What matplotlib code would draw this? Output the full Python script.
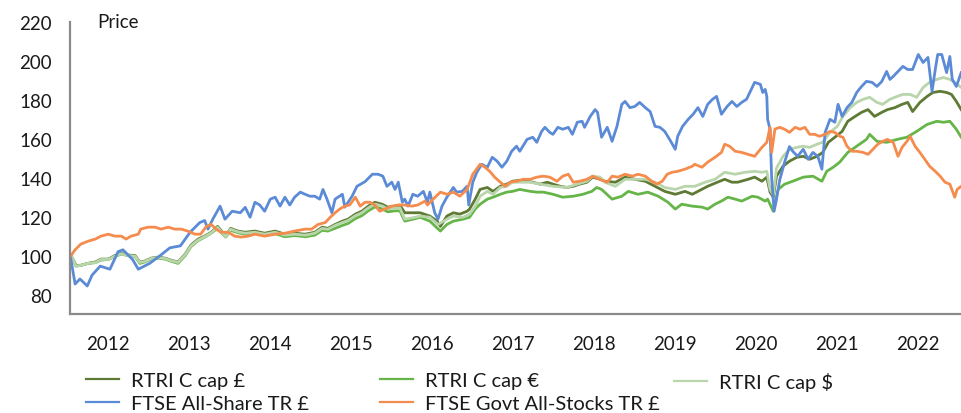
import matplotlib
matplotlib.use("Agg")
import matplotlib.pyplot as plt
from matplotlib.lines import Line2D

plt.rcParams['font.family'] = ['Lato', 'DejaVu Sans']

# --- data (decimal years, index value) ---
years = [2012, 2013, 2014, 2015, 2016, 2017, 2018, 2019, 2020, 2021, 2022]
y_ticks = [80, 100, 120, 140, 160, 180, 200, 220]

gbp_x = [2011.54, 2011.60, 2011.66, 2011.75, 2011.84, 2011.91, 2012.00, 2012.08, 2012.16, 2012.24,
         2012.33, 2012.39, 2012.45, 2012.53, 2012.61, 2012.70, 2012.77, 2012.86, 2012.95, 2013.02,
         2013.11, 2013.19, 2013.27, 2013.35, 2013.39, 2013.45, 2013.51, 2013.60, 2013.69, 2013.81,
         2013.93, 2014.06, 2014.18, 2014.30, 2014.43, 2014.55, 2014.64, 2014.71, 2014.80, 2014.89,
         2014.96, 2015.05, 2015.13, 2015.21, 2015.29, 2015.38, 2015.45, 2015.54, 2015.60, 2015.66,
         2015.79, 2015.85, 2015.97, 2016.06, 2016.10, 2016.18, 2016.26, 2016.34, 2016.43, 2016.46,
         2016.53, 2016.59, 2016.68, 2016.75, 2016.84, 2016.92, 2016.99, 2017.08, 2017.17, 2017.24,
         2017.33, 2017.42, 2017.49, 2017.58, 2017.66, 2017.74, 2017.82, 2017.91, 2017.98, 2018.07,
         2018.13, 2018.26, 2018.38, 2018.50, 2018.63, 2018.75, 2018.87, 2019.00, 2019.12, 2019.21,
         2019.28, 2019.40, 2019.52, 2019.61, 2019.70, 2019.77, 2019.90, 2019.98, 2020.07, 2020.13,
         2020.17, 2020.21, 2020.25, 2020.33, 2020.41, 2020.50, 2020.58, 2020.66, 2020.75, 2020.82,
         2020.89, 2020.97, 2021.06, 2021.13, 2021.22, 2021.30, 2021.38, 2021.46, 2021.55, 2021.62,
         2021.71, 2021.80, 2021.87, 2021.93, 2022.02, 2022.11, 2022.18, 2022.27, 2022.35, 2022.41,
         2022.47, 2022.53]
gbp_y = [100, 95, 95, 96, 96.7, 98.2, 98.2, 100, 101.3, 100.3,
         100, 96.7, 97.2, 98.7, 99.2, 98.7, 97.7, 96.7, 100.8, 105.4,
         108.5, 110, 112, 115, 113, 110, 114, 112.6, 112, 112.6,
         111.5, 112.6, 111, 111.5, 111, 112, 114.6, 114, 116, 117.7,
         118.7, 121.3, 122.8, 125.4, 127.4, 126.4, 124.9, 125.4, 125.9, 122,
         122, 122, 120.3, 117.7, 115, 120.3, 122, 121.3, 122.8, 123.9,
         129, 134, 135, 133, 135.6, 136.7, 138.2, 138.7, 138.2, 137.7,
         136.7, 137.7, 136.7, 135.6, 135, 135.6, 136.7, 137.7, 140.3, 139.2,
         138.2, 137.7, 140.3, 139.2, 138.2, 135.6, 133, 131.5, 133, 131.5,
         133, 135.6, 137.7, 139.2, 137.7, 137.7, 139.2, 140.3, 138.2, 140.3,
         132.6, 130, 140.8, 145.9, 148.5, 150.5, 151, 149.5, 151, 153,
         158.2, 160.8, 163.8, 169, 171.5, 173.6, 175, 171.5, 173.6, 175,
         176, 177.7, 178.7, 174, 178.7, 181.8, 183.8, 184.4, 183.8, 182.8,
         179.2, 175]

eur_x = [2011.54, 2011.60, 2011.66, 2011.75, 2011.84, 2011.91, 2012.00, 2012.08, 2012.16, 2012.24,
         2012.33, 2012.39, 2012.45, 2012.53, 2012.61, 2012.70, 2012.77, 2012.86, 2012.95, 2013.02,
         2013.11, 2013.19, 2013.27, 2013.35, 2013.39, 2013.45, 2013.51, 2013.60, 2013.69, 2013.81,
         2013.93, 2014.06, 2014.18, 2014.30, 2014.43, 2014.55, 2014.64, 2014.71, 2014.80, 2014.89,
         2014.96, 2015.05, 2015.13, 2015.21, 2015.29, 2015.38, 2015.45, 2015.54, 2015.60, 2015.66,
         2015.79, 2015.85, 2015.97, 2016.10, 2016.18, 2016.26, 2016.38, 2016.46, 2016.53, 2016.59,
         2016.68, 2016.75, 2016.84, 2016.92, 2016.99, 2017.08, 2017.21, 2017.29, 2017.37, 2017.49,
         2017.61, 2017.74, 2017.86, 2017.97, 2018.03, 2018.09, 2018.22, 2018.34, 2018.42, 2018.54,
         2018.66, 2018.79, 2018.91, 2019.00, 2019.08, 2019.21, 2019.33, 2019.40, 2019.49, 2019.57,
         2019.65, 2019.74, 2019.82, 2019.95, 2020.02, 2020.11, 2020.14, 2020.21, 2020.27, 2020.35,
         2020.45, 2020.58, 2020.70, 2020.81, 2020.87, 2020.95, 2021.03, 2021.13, 2021.24, 2021.36,
         2021.40, 2021.49, 2021.61, 2021.74, 2021.86, 2021.98, 2022.11, 2022.23, 2022.31, 2022.39,
         2022.47, 2022.53]
eur_y = [100, 94.6, 95, 96, 96.4, 97.7, 98, 99.5, 100.8, 100,
         99.5, 96, 96.7, 98.2, 98.7, 98.2, 97.2, 96, 100, 104.6,
         107.7, 109.5, 111.5, 114, 112, 109.5, 113, 111.7, 111, 111.5,
         110.3, 111.3, 109.7, 110.3, 109.7, 110.5, 113, 112.6, 114, 115.5,
         116.5, 119, 120.5, 123, 125, 124, 122.5, 123, 123, 117.7,
         119, 119.7, 117.7, 112.6, 116, 117.7, 118.7, 119.7, 123.9, 126.4,
         129, 130, 131.5, 132.6, 133, 134, 133, 132.6, 132.6, 131.5,
         130, 130.5, 131.5, 133, 135, 134, 129, 130.5, 133, 131.5,
         132.6, 130.5, 127.4, 123.9, 126.4, 125.4, 124.9, 123.9, 126.4, 128,
         130, 129, 128, 130.5, 130, 128, 129, 122.8, 134, 136.7,
         138.2, 140.3, 140.8, 138.2, 143.3, 145.4, 148, 153, 156.2, 159.7,
         162.3, 158.7, 158.2, 159.7, 160.8, 163.8, 167.4, 169, 168.5, 169,
         164.9, 160.8]

usd_x = [2011.54, 2011.60, 2011.66, 2011.75, 2011.84, 2011.91, 2012.00, 2012.08, 2012.16, 2012.24,
         2012.33, 2012.39, 2012.45, 2012.53, 2012.61, 2012.70, 2012.77, 2012.86, 2012.95, 2013.02,
         2013.11, 2013.19, 2013.27, 2013.35, 2013.39, 2013.45, 2013.51, 2013.60, 2013.69, 2013.81,
         2013.93, 2014.06, 2014.18, 2014.30, 2014.43, 2014.55, 2014.64, 2014.71, 2014.80, 2014.89,
         2014.96, 2015.05, 2015.13, 2015.21, 2015.29, 2015.38, 2015.45, 2015.54, 2015.60, 2015.66,
         2015.79, 2015.85, 2015.97, 2016.07, 2016.18, 2016.26, 2016.38, 2016.46, 2016.53, 2016.59,
         2016.68, 2016.75, 2016.84, 2016.92, 2016.99, 2017.08, 2017.21, 2017.33, 2017.49, 2017.66,
         2017.79, 2017.91, 2017.98, 2018.07, 2018.13, 2018.26, 2018.38, 2018.50, 2018.63, 2018.75,
         2018.87, 2019.00, 2019.12, 2019.24, 2019.37, 2019.49, 2019.61, 2019.74, 2019.86, 2019.98,
         2020.07, 2020.13, 2020.17, 2020.21, 2020.25, 2020.33, 2020.41, 2020.50, 2020.58, 2020.66,
         2020.75, 2020.82, 2020.91, 2021.00, 2021.07, 2021.16, 2021.24, 2021.32, 2021.40, 2021.49,
         2021.56, 2021.65, 2021.74, 2021.81, 2021.90, 2021.98, 2022.06, 2022.14, 2022.23, 2022.31,
         2022.39, 2022.45, 2022.53]
usd_y = [100, 94.6, 95, 96, 96.4, 98, 98, 99.7, 101, 100,
         99.7, 96.5, 97, 98.5, 99, 98.5, 97.5, 96.5, 100.5, 105,
         108, 109.7, 111.7, 114.5, 112.5, 109.7, 113.6, 112.2, 111.5, 112,
         111, 112, 110.5, 111, 110.5, 111.5, 114, 113.5, 115.5, 117,
         118, 120.5, 122, 124.5, 126.5, 125.5, 124, 124.5, 124.5, 118.7,
         119.7, 120.3, 119.7, 116, 118.7, 120.3, 119.7, 121.3, 125.4, 130.5,
         133, 131.5, 135, 135.6, 137.7, 137.7, 137.7, 136.7, 135.6, 135,
         136.7, 138.2, 140.8, 140.3, 137.7, 135.6, 139.2, 139.2, 139.2, 137.7,
         135, 134, 135.6, 135.6, 137.7, 139.2, 142.8, 141.8, 142.8, 143.3,
         142.8, 143.3, 134, 131, 145, 151, 154.6, 155.6, 156.2, 155.6,
         157.2, 158.2, 163.3, 166.4, 171.5, 176, 178.7, 180.3, 181.3, 178.7,
         177.7, 180.3, 181.8, 182.8, 182.8, 181.3, 186.4, 189, 190.5, 191.5,
         190.5, 189, 186.4]

ftse_x = [2011.53, 2011.59, 2011.65, 2011.70, 2011.74, 2011.80, 2011.90, 2012.02, 2012.12, 2012.18,
          2012.30, 2012.37, 2012.51, 2012.64, 2012.76, 2012.89, 2013.01, 2013.13, 2013.19, 2013.23,
          2013.29, 2013.38, 2013.44, 2013.53, 2013.63, 2013.69, 2013.75, 2013.81, 2013.87, 2013.93,
          2014.00, 2014.06, 2014.12, 2014.18, 2014.24, 2014.30, 2014.37, 2014.43, 2014.49, 2014.55,
          2014.61, 2014.65, 2014.70, 2014.76, 2014.80, 2014.89, 2014.92, 2015.01, 2015.07, 2015.17,
          2015.26, 2015.33, 2015.39, 2015.44, 2015.50, 2015.54, 2015.58, 2015.63, 2015.66, 2015.70,
          2015.76, 2015.82, 2015.89, 2015.94, 2015.97, 2016.03, 2016.07, 2016.12, 2016.18, 2016.26,
          2016.30, 2016.37, 2016.43, 2016.45, 2016.50, 2016.55, 2016.61, 2016.68, 2016.74, 2016.80,
          2016.86, 2016.92, 2016.98, 2017.04, 2017.08, 2017.17, 2017.24, 2017.29, 2017.35, 2017.39,
          2017.45, 2017.49, 2017.55, 2017.61, 2017.68, 2017.73, 2017.79, 2017.85, 2017.88, 2017.95,
          2018.01, 2018.04, 2018.09, 2018.16, 2018.22, 2018.28, 2018.34, 2018.38, 2018.44, 2018.50,
          2018.56, 2018.63, 2018.69, 2018.75, 2018.81, 2018.87, 2018.93, 2019.00, 2019.03, 2019.09,
          2019.16, 2019.22, 2019.28, 2019.34, 2019.40, 2019.46, 2019.51, 2019.57, 2019.64, 2019.70,
          2019.76, 2019.82, 2019.88, 2019.95, 2019.98, 2020.05, 2020.08, 2020.11, 2020.13, 2020.14,
          2020.17, 2020.19, 2020.22, 2020.25, 2020.29, 2020.35, 2020.41, 2020.45, 2020.51, 2020.58,
          2020.64, 2020.70, 2020.76, 2020.81, 2020.85, 2020.91, 2020.97, 2021.01, 2021.06, 2021.12,
          2021.18, 2021.24, 2021.30, 2021.36, 2021.43, 2021.49, 2021.55, 2021.61, 2021.65, 2021.69,
          2021.75, 2021.81, 2021.87, 2021.93, 2022.00, 2022.06, 2022.12, 2022.17, 2022.21, 2022.24,
          2022.29, 2022.35, 2022.39, 2022.42, 2022.47, 2022.53]
ftse_y = [100, 85.4, 88, 86, 84.4, 90, 94.6, 93, 102, 103,
          98, 93, 96, 100, 104, 105, 112, 117, 118, 113.6,
          118.7, 125.4, 118.7, 122.8, 122, 124.8, 119.7, 127.4, 126, 122.8,
          129, 130, 125.4, 130, 126, 130, 132.6, 131.5, 130.5, 130.5,
          129, 134, 129, 122, 129, 131.5, 124.9, 130.5, 135.6, 138,
          141.8, 141.8, 140.8, 135.6, 137.7, 134, 137.7, 127.4, 129, 125.4,
          131.5, 130.5, 133, 127.4, 132.6, 122, 118.7, 125.4, 130, 135,
          132.6, 133, 135.6, 126, 137.7, 142.8, 146.9, 145.4, 150.5, 148.5,
          145.4, 148.5, 153.6, 156.2, 153.6, 159.7, 160.8, 158.2, 163.8, 165.9,
          163.3, 162.3, 165.9, 164.9, 165.9, 162.3, 168.5, 169, 165.9, 171.5,
          175, 173.6, 160.8, 165.9, 158.7, 166.4, 177.7, 179.2, 176, 176.6,
          178.7, 176, 174, 166.4, 165.9, 163.8, 159.7, 154.6, 161.3, 166.4,
          170, 172.6, 176, 171.5, 177.7, 180.3, 181.8, 172.6, 176.6, 179.2,
          176.6, 178.7, 180.3, 186.4, 189, 188, 183.8, 185.4, 181.8, 170,
          164.9, 140, 122.8, 129, 139, 148, 156, 153.6, 151, 154.6,
          149.5, 153, 151, 144.4, 163.3, 170, 168.5, 177.7, 171.5, 176,
          178.7, 183.8, 186.9, 189.5, 189, 186.9, 189.5, 194.6, 190.5, 192,
          194.6, 197.2, 195.6, 195.6, 203.3, 199.2, 201.8, 184.4, 195.6, 203.3,
          203.3, 194, 202.3, 190.5, 186.9, 194]

gilt_x = [2011.54, 2011.59, 2011.66, 2011.75, 2011.84, 2011.91, 2012.00, 2012.08, 2012.16, 2012.22,
          2012.28, 2012.37, 2012.40, 2012.49, 2012.58, 2012.65, 2012.74, 2012.82, 2012.90, 2012.98,
          2013.07, 2013.14, 2013.21, 2013.27, 2013.33, 2013.39, 2013.48, 2013.56, 2013.64, 2013.73,
          2013.81, 2013.93, 2014.06, 2014.18, 2014.30, 2014.43, 2014.51, 2014.59, 2014.68, 2014.74,
          2014.80, 2014.86, 2014.92, 2014.98, 2015.05, 2015.11, 2015.17, 2015.23, 2015.29, 2015.35,
          2015.42, 2015.50, 2015.58, 2015.66, 2015.75, 2015.82, 2015.91, 2015.94, 2016.01, 2016.10,
          2016.18, 2016.26, 2016.34, 2016.43, 2016.50, 2016.59, 2016.65, 2016.71, 2016.77, 2016.84,
          2016.90, 2016.96, 2017.04, 2017.12, 2017.21, 2017.29, 2017.37, 2017.45, 2017.54, 2017.61,
          2017.68, 2017.74, 2017.82, 2017.91, 2017.98, 2018.07, 2018.16, 2018.22, 2018.29, 2018.38,
          2018.47, 2018.54, 2018.63, 2018.71, 2018.77, 2018.84, 2018.90, 2018.96, 2019.03, 2019.12,
          2019.21, 2019.24, 2019.33, 2019.40, 2019.49, 2019.57, 2019.61, 2019.67, 2019.74, 2019.82,
          2019.90, 2019.98, 2020.07, 2020.13, 2020.17, 2020.19, 2020.23, 2020.29, 2020.35, 2020.41,
          2020.48, 2020.54, 2020.60, 2020.66, 2020.72, 2020.78, 2020.85, 2020.91, 2020.97, 2021.03,
          2021.07, 2021.12, 2021.18, 2021.24, 2021.32, 2021.38, 2021.44, 2021.50, 2021.56, 2021.62,
          2021.69, 2021.75, 2021.80, 2021.86, 2021.90, 2021.96, 2022.02, 2022.08, 2022.14, 2022.21,
          2022.27, 2022.33, 2022.39, 2022.45, 2022.48, 2022.53]
gilt_y = [100, 103, 105.9, 107.4, 108.5, 110, 111, 110, 110, 108.5,
          110, 111, 113.6, 114.6, 114.6, 113.6, 114.6, 113.6, 113.6, 112.6,
          111, 111, 115, 116, 113.6, 112, 112, 110, 109.5, 110,
          111, 110, 111, 111.5, 112.6, 113.6, 113.6, 116, 117, 119.7,
          122, 124, 125.4, 126, 130, 125.4, 127.4, 127.4, 126, 122.8,
          124, 125.4, 126, 126, 125.4, 126, 128, 126, 129, 132.6,
          131.5, 132.6, 130.5, 134, 141.8, 146.9, 145.4, 143.3, 140.3, 137.7,
          135.6, 137.7, 138.2, 139.2, 139.2, 140.3, 140.8, 140.3, 138.2, 140.8,
          141.8, 137.7, 138.2, 139.2, 140.8, 139.2, 137.7, 140.8, 140.3, 141.8,
          140.8, 141.8, 140.8, 138.2, 136.7, 138.2, 141.8, 142.8, 143.3, 144.4,
          145.9, 146.9, 145.4, 148, 150.5, 153, 157.2, 156.2, 153.6, 153,
          152, 151, 155.6, 158.2, 165.9, 153, 165, 165.9, 164.9, 163.3,
          165.9, 164.9, 165.9, 162.3, 162.3, 161.3, 162.3, 163.8, 163.3, 161.3,
          160.8, 156.2, 153.6, 153.6, 153, 152, 154.6, 157.2, 158.7, 159.7,
          158.2, 151, 155.6, 158.7, 161.3, 156.2, 153, 149.5, 145.9, 143.3,
          140.8, 137.7, 136.7, 130, 134, 135.6]

labels = ['RTRI C cap £', 'RTRI C cap €', 'RTRI C cap $',
          'FTSE All-Share TR £', 'FTSE Govt All-Stocks TR £']
colors = ['#5E7A34', '#66B548', '#B9D5AC', '#5B8BD6', '#F58B4C']

fig = plt.figure(figsize=(9.62, 4.14), dpi=100)
ax = fig.add_axes([70 / 962, 1 - 315 / 414, 1 - 70 / 962, (315 - 23) / 414])

series = [(gbp_x, gbp_y), (eur_x, eur_y), (usd_x, usd_y), (ftse_x, ftse_y), (gilt_x, gilt_y)]
for (xs, ys), c in zip(series, colors):
    ax.plot(xs, ys, color=c, lw=2.0, solid_joinstyle='round')

ax.set_xlim(2011.527, 2022.54)
ax.set_ylim(70, 220)
ax.set_xticks(years)
ax.set_xticklabels([str(y) for y in years])
ax.set_yticks(y_ticks)
ax.tick_params(length=0, labelsize=13.5, colors='#1a1a1a')
ax.tick_params(axis='y', pad=13)
ax.tick_params(axis='x', pad=15)
for s in ['top', 'right']:
    ax.spines[s].set_visible(False)
for s in ['left', 'bottom']:
    ax.spines[s].set_color('#8a8a8a')
    ax.spines[s].set_linewidth(1.6)

fig.text(97 / 962, 1 - 23 / 414, 'Price', fontsize=13.5, va='center', ha='left', color='#1a1a1a')

# legend in three fixed-width columns, filled row by row
cols = [[0, 3], [1, 4], [2]]
col_x = [86, 380, 674]
for idx, cx in zip(cols, col_x):
    handles = [Line2D([], [], color=colors[i], lw=1.6) for i in idx]
    fig.legend(handles, [labels[i] for i in idx], loc='upper left',
               bbox_to_anchor=(cx / 962, 1 - 373 / 414), frameon=False,
               fontsize=14.5, handlelength=1.65, handletextpad=0.6,
               labelspacing=0.3, borderpad=0, borderaxespad=0,
               labelcolor='#1a1a1a')

fig.savefig('out.png', dpi=100)
